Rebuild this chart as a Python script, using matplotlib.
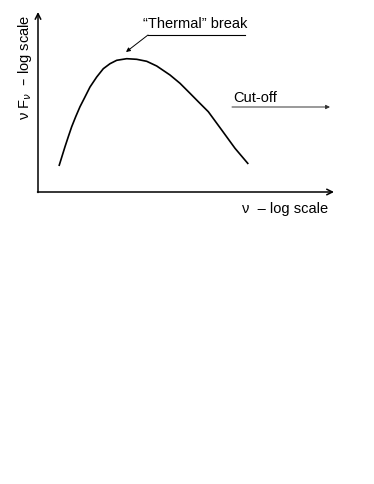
import matplotlib
matplotlib.use("Agg")
import matplotlib.pyplot as plt

plt.rcParams['font.family'] = ['Liberation Sans', 'DejaVu Sans']

# spectrum shape (arbitrary log units)
log_nu = [21, 27, 30.3, 33.7, 37.7, 42, 46.3, 52, 58.7, 65.3, 72, 78.7,
          88.7, 98.7, 108.7, 118.7, 132, 142, 152, 160.3, 170.3, 183.7,
          197, 210.3]
log_nuFnu = [26, 45.3, 55.3, 65.3, 75.3, 85.3, 93.7, 105, 115, 123.3,
             128.3, 131.7, 133.3, 132.7, 130.7, 126, 117, 108.7, 98.7,
             90.3, 80.3, 62, 43.7, 28]

W, H = 374, 484
fig = plt.figure(figsize=(W / 100, H / 100), dpi=100)

# overlay in pixel coordinates for the sketch annotations
ov = fig.add_axes([0, 0, 1, 1])
ov.set_xlim(0, W)
ov.set_ylim(H, 0)
ov.axis('off')

# data axes: origin at (38,192), top at y=13, right end at x=333
ax = fig.add_axes([38 / W, 1 - 192 / H, (333 - 38) / W, (192 - 13) / H])
ax.set_xlim(0, 295)
ax.set_ylim(0, 179)
ax.axis('off')
ax.patch.set_alpha(0)

ax.plot(log_nu, log_nuFnu, color='black', lw=1.2, solid_joinstyle='round',
        solid_capstyle='butt')

# axes with arrow heads
ax_kw = dict(arrowstyle='->', lw=1.1, color='black', mutation_scale=10,
             shrinkA=0, shrinkB=0)
ov.annotate('', xy=(38, 12), xytext=(38, 192.5), arrowprops=ax_kw)
ov.annotate('', xy=(334, 192), xytext=(37.5, 192), arrowprops=ax_kw)

# axis labels
ov.text(242, 209, 'ν  – log scale', fontsize=10.5, ha='left', va='center')
ov.text(25, 67, 'ν F$_{\\nu}$  – log scale', fontsize=10.5, ha='center',
        va='center', rotation=90)

# "Thermal" break label with underline and pointer
ov.text(195, 24, '\u201cThermal\u201d break', fontsize=10.5, ha='center',
        va='center')
ov.plot([148, 245], [35, 35], color='black', lw=0.8)
ov.annotate('', xy=(126, 52), xytext=(148, 35),
            arrowprops=dict(arrowstyle='-|>', lw=0.7, color='black',
                            mutation_scale=6, shrinkA=0, shrinkB=0))

# Cut-off label with arrow
ov.text(233, 98, 'Cut-off', fontsize=10.5, ha='left', va='center')
ov.annotate('', xy=(330, 107), xytext=(232, 107),
            arrowprops=dict(arrowstyle='-|>', lw=0.7, color='#333333',
                            mutation_scale=6, shrinkA=0, shrinkB=0))

fig.savefig('out.png', dpi=100)
